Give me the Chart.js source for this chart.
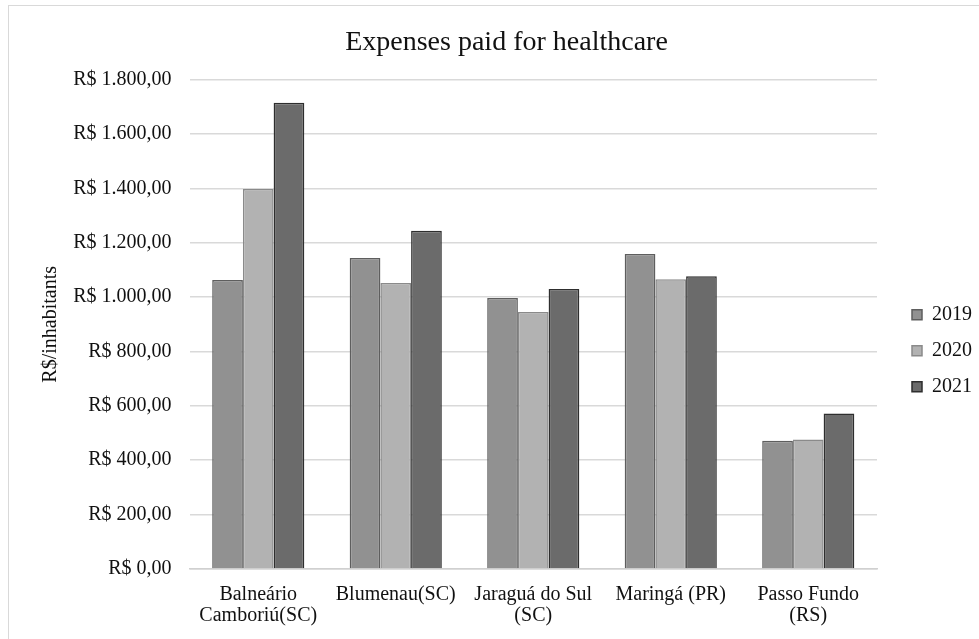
<!DOCTYPE html>
<html>
<head>
<meta charset="utf-8">
<script src="https://cdn.jsdelivr.net/npm/chart.js"></script>
<style>
  html, body { margin: 0; padding: 0; background: #fff; overflow: hidden; }
  #frame { position: absolute; left: 8px; top: 5px; width: 990px; height: 660px; border: 1px solid #d9d9d9; pointer-events: none; }
  #wrap { position: absolute; left: 0; top: 0; width: 979px; height: 639px; }
</style>
</head>
<body>
<div id="wrap"><canvas id="c"></canvas></div>
<div id="frame"></div>
<script>
// expenses paid for healthcare, R$ per inhabitant
const cities = [
  ['Balneário', 'Camboriú(SC)'],
  'Blumenau(SC)',
  ['Jaraguá do Sul', '(SC)'],
  'Maringá (PR)',
  ['Passo Fundo', '(RS)']
]
const years = ['2019', '2020', '2021']
const v2019 = [1063, 1144, 997, 1159, 472]
const v2020 = [1398, 1052, 945, 1066, 476]
const v2021 = [1715, 1244, 1030, 1077, 572]
const yTicks = [0, 200, 400, 600, 800, 1000, 1200, 1400, 1600, 1800]

const fill = ['#919191', '#b2b2b2', '#6b6b6b']
const edge = ['#5e5e5e', '#8a8a8a', '#2e2e2e']

function brl(n) {
  const s = String(Math.round(n)).replace(/\B(?=(\d{3})+(?!\d))/g, '.')
  return 'R$ ' + s + ',00'
}

const serif = '"Liberation Serif", "Times New Roman", serif'

new Chart(document.getElementById('c'), {
  type: 'bar',
  data: {
    labels: cities,
    datasets: [v2019, v2020, v2021].map((d, i) => ({
      label: years[i],
      data: d,
      backgroundColor: fill[i],
      borderColor: edge[i],
      borderWidth: 1.5,
      categoryPercentage: 0.67,
      barPercentage: 1.0
    }))
  },
  options: {
    responsive: true,
    maintainAspectRatio: false,
    animation: false,
    layout: { padding: { left: 31, right: -3, top: 7, bottom: -2 } },
    plugins: {
      title: {
        display: true,
        text: 'Expenses paid for healthcare',
        color: '#111',
        font: { family: serif, size: 28, weight: 'normal' },
        padding: { top: 19, bottom: 20 }
      },
      legend: {
        position: 'right',
        title: { display: true, text: ' ', font: { size: 12 }, padding: { top: 39, bottom: 0 } },
        labels: {
          color: '#111',
          font: { family: serif, size: 20 },
          boxWidth: 10,
          boxHeight: 10,
          padding: 16
        }
      },
      tooltip: { enabled: false }
    },
    scales: {
      x: {
        grid: { display: false, drawTicks: false },
        border: { color: '#d0d0d0', width: 1.5 },
        ticks: {
          color: '#111',
          font: { family: serif, size: 20, lineHeight: 1.05 },
          maxRotation: 0,
          autoSkip: false,
          padding: 15
        }
      },
      y: {
        min: 0,
        max: 1800,
        afterBuildTicks: axis => { axis.ticks = yTicks.map(v => ({ value: v })) },
        grid: { color: '#d9d9d9', lineWidth: 1.5, drawTicks: false },
        border: { display: false },
        ticks: {
          color: '#111',
          font: { family: serif, size: 20 },
          padding: 18,
          callback: v => brl(v)
        },
        title: {
          display: true,
          text: 'R$/inhabitants',
          color: '#111',
          font: { family: serif, size: 20 },
          padding: { top: 8, bottom: 12 }
        }
      },
      gap: {
        position: 'right',
        min: 0,
        max: 1,
        grid: { display: false },
        border: { display: false },
        ticks: { display: false },
        afterFit: s => { s.width = 19 }
      }
    }
  }
})
</script>
</body>
</html>
